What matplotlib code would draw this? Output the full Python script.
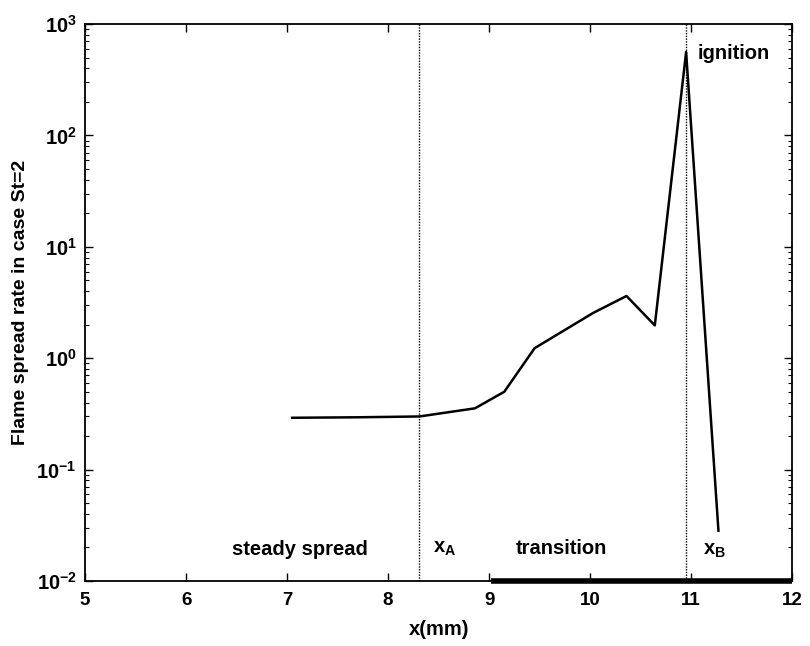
import matplotlib
matplotlib.use("Agg")
import matplotlib.pyplot as plt

plt.rcParams['font.family'] = ['Liberation Sans', 'DejaVu Sans']
plt.rcParams['font.weight'] = 'bold'
plt.rcParams['axes.labelweight'] = 'bold'
plt.rcParams['mathtext.fontset'] = 'custom'
plt.rcParams['mathtext.rm'] = 'Liberation Sans:bold'
plt.rcParams['mathtext.it'] = 'Liberation Sans:bold'
plt.rcParams['mathtext.bf'] = 'Liberation Sans:bold'
plt.rcParams['mathtext.default'] = 'regular'

# data
x_mm = [7.05, 7.7, 8.31, 8.86, 9.15, 9.45, 10.03, 10.36, 10.64, 10.95, 11.27]
rate = [0.292, 0.295, 0.30, 0.355, 0.50, 1.23, 2.55, 3.62, 1.97, 560, 0.0283]
x_A = 8.31
x_B = 10.95
transition_bar = [9.02, 12.0]
xticks = [5, 6, 7, 8, 9, 10, 11, 12]

fig = plt.figure(figsize=(8.1, 6.46), dpi=100)
ax = fig.add_axes([0.105, 0.1006, 0.873, 0.8622])

ax.plot(x_mm, rate, color='black', lw=1.8)
ax.axvline(x_A, color='black', lw=1.0, ls=(0, (1, 1)))
ax.axvline(x_B, color='black', lw=1.0, ls=(0, (1, 1)))
ax.plot(transition_bar, [0.0101, 0.0101], color='black', lw=4, clip_on=False, solid_capstyle='butt')

ax.set_yscale('log')
ax.set_xlim(5, 12)
ax.set_ylim(1e-2, 1e3)
ax.set_xticks(xticks)
ax.set_xticklabels([str(t) for t in xticks])

ax.tick_params(which='both', direction='in', top=True, right=True, labelsize=13.5)
ax.tick_params(axis='y', labelsize=14.5)
ax.tick_params(which='major', length=6, width=1)
ax.tick_params(which='minor', length=3, width=0.8)
ax.tick_params(axis='x', which='major', pad=8)
ax.tick_params(axis='y', which='major', pad=6)
ax.tick_params(axis='x', which='minor', top=False, bottom=False)
for s in ax.spines.values():
    s.set_linewidth(1.3)

ax.set_xlabel('x(mm)', fontsize=14.5, labelpad=8)
ax.set_ylabel('Flame spread rate in case St=2', fontsize=14, labelpad=5)

fs = 14.5
ax.text(7.13, 0.0193, 'steady spread', fontsize=fs, ha='center', va='center')
ax.text(8.44, 0.0196, r'x$_{A}$', fontsize=fs, ha='left', va='center')
ax.text(9.72, 0.0196, 'transition', fontsize=fs, ha='center', va='center')
ax.text(11.12, 0.0186, r'x$_{B}$', fontsize=fs, ha='left', va='center')
ax.text(11.06, 540, 'ignition', fontsize=fs, ha='left', va='center')

fig.savefig('out.png', dpi=100)
